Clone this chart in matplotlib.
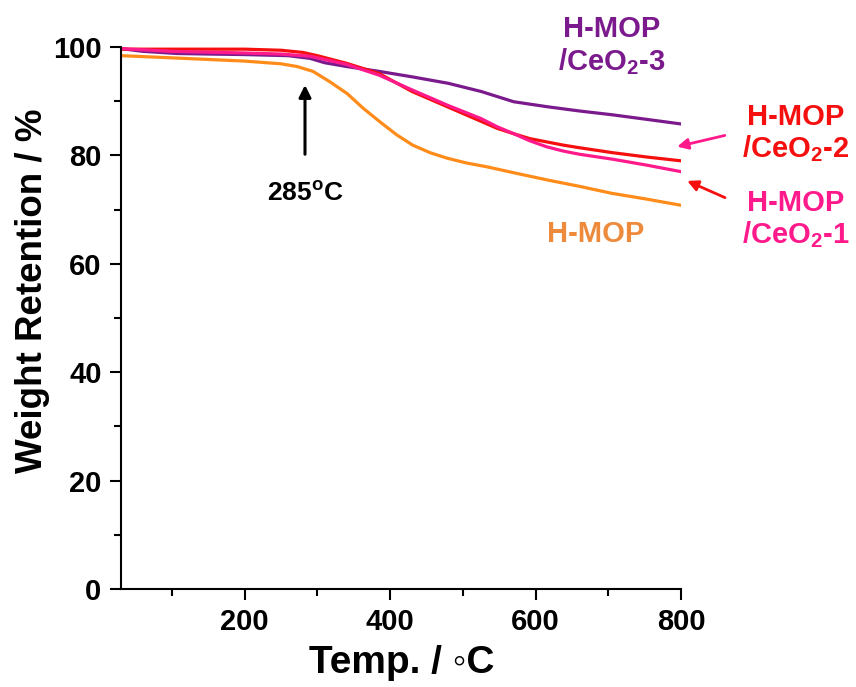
import matplotlib
matplotlib.use("Agg")
import matplotlib.pyplot as plt
from matplotlib.ticker import MultipleLocator

plt.rcParams["font.family"] = ["Liberation Sans", "DejaVu Sans"]
plt.rcParams["font.weight"] = "bold"
plt.rcParams["mathtext.fontset"] = "custom"
plt.rcParams["mathtext.rm"] = "Liberation Sans:bold"
plt.rcParams["mathtext.bf"] = "Liberation Sans:bold"
plt.rcParams["mathtext.it"] = "Liberation Sans:bold"

# TGA curves (temperature in C, weight retention in %)
temp_mop = [30, 100, 200, 250, 272, 294, 317, 341, 363, 386, 409, 431, 455,
            478, 505, 533, 570, 615, 660, 705, 750, 800]
wt_mop = [98.4, 98.0, 97.4, 96.9, 96.4, 95.5, 93.6, 91.4, 88.7, 86.2, 83.8,
          81.9, 80.5, 79.5, 78.6, 77.9, 76.8, 75.5, 74.3, 73.0, 72.0, 70.8]

temp_ce1 = [30, 100, 200, 250, 290, 340, 385, 430, 480, 525, 547, 570, 592,
            615, 638, 661, 706, 753, 800]
wt_ce1 = [99.7, 99.2, 98.9, 98.7, 98.3, 96.8, 94.8, 92.1, 89.2, 86.8, 85.3,
          84.0, 82.7, 81.6, 80.8, 80.2, 79.3, 78.2, 77.0]

temp_ce2 = [30, 100, 200, 250, 280, 300, 340, 385, 430, 480, 530, 547, 570,
            592, 615, 638, 661, 706, 753, 800]
wt_ce2 = [99.6, 99.6, 99.6, 99.4, 99.0, 98.4, 97.0, 95.1, 91.8, 88.9, 86.0,
          85.0, 84.0, 83.1, 82.5, 81.9, 81.4, 80.5, 79.7, 79.0]

temp_ce3 = [30, 60, 107, 150, 200, 260, 290, 310, 340, 385, 430, 480, 525,
            570, 615, 660, 705, 750, 800]
wt_ce3 = [99.7, 99.2, 98.8, 98.7, 98.6, 98.4, 97.9, 97.1, 96.4, 95.5, 94.5,
          93.3, 91.8, 89.9, 89.0, 88.2, 87.5, 86.7, 85.8]

c_mop = "#FF8C1A"
c_ce1 = "#FF1A8C"
c_ce2 = "#F50F0F"
c_ce3 = "#7A1A8C"

fig = plt.figure(figsize=(8.56, 6.87), dpi=100)
ax = fig.add_axes([121 / 856, 1 - 589 / 687, 560 / 856, 542 / 687])

lw = 2.3
ax.plot(temp_mop, wt_mop, color=c_mop, lw=lw)
ax.plot(temp_ce3, wt_ce3, color=c_ce3, lw=lw)
ax.plot(temp_ce2, wt_ce2, color=c_ce2, lw=lw)
ax.plot(temp_ce1, wt_ce1, color=c_ce1, lw=lw)

ax.set_xlim(30, 800)
ax.set_ylim(0, 100)
ax.set_xticks([200, 400, 600, 800])
ax.xaxis.set_minor_locator(MultipleLocator(100))
ax.yaxis.set_major_locator(MultipleLocator(20))
ax.yaxis.set_minor_locator(MultipleLocator(10))

for s in ["top", "right"]:
    ax.spines[s].set_visible(False)
for s in ["left", "bottom"]:
    ax.spines[s].set_linewidth(1.5)

ax.tick_params(which="major", direction="out", length=8, width=1.5,
               labelsize=21, pad=6)
ax.tick_params(which="minor", direction="out", length=5, width=1.5)
for lab in ax.get_xticklabels() + ax.get_yticklabels():
    lab.set_fontweight("bold")

ax.set_xlabel("Temp. / \u25e6C", fontsize=28, fontweight="bold")
ax.set_ylabel("Weight Retention / %", fontsize=26.5, fontweight="bold")
ax.xaxis.set_label_coords(0.502, -0.103)
ax.yaxis.set_label_coords(-0.127, 0.55)

# decomposition onset marker
ax.annotate("", xy=(283, 93.5), xytext=(283, 79.7),
            arrowprops=dict(arrowstyle="-|>", color="black", lw=2.2,
                            mutation_scale=18))
ax.text(283, 73.0, "285$^{o}$C", fontsize=19, fontweight="bold",
        ha="center", va="center")

# curve labels
ax.text(705, 100.2, "H-MOP\n/CeO$_{2}$-3", color=c_ce3, fontsize=21,
        fontweight="bold", ha="center", va="center", linespacing=1.1,
        clip_on=False)
ax.text(958, 84.1, "H-MOP\n/CeO$_{2}$-2", color=c_ce2, fontsize=21,
        fontweight="bold", ha="center", va="center", linespacing=1.1,
        clip_on=False)
ax.text(958, 68.1, "H-MOP\n/CeO$_{2}$-1", color=c_ce1, fontsize=21,
        fontweight="bold", ha="center", va="center", linespacing=1.1,
        clip_on=False)
ax.text(682, 65.5, "H-MOP", color="#EE8A3C", fontsize=21,
        fontweight="bold", ha="center", va="center", clip_on=False)

ax.annotate("", xy=(791, 81.5), xytext=(864, 83.8),
            arrowprops=dict(arrowstyle="-|>", color=c_ce1, lw=2,
                            mutation_scale=16), annotation_clip=False)
ax.annotate("", xy=(805, 75.5), xytext=(864, 72.0),
            arrowprops=dict(arrowstyle="-|>", color=c_ce2, lw=2,
                            mutation_scale=16), annotation_clip=False)

fig.savefig("out.png", dpi=100)
